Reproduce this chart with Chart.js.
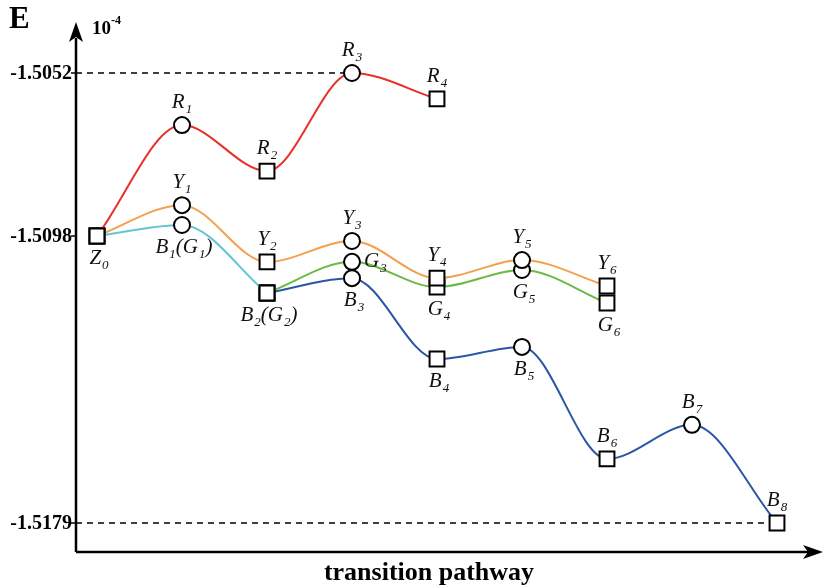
<!DOCTYPE html>
<html>
<head>
<meta charset="utf-8">
<script src="https://cdn.jsdelivr.net/npm/chart.js@4"></script>
<style>
  html, body { margin: 0; padding: 0; background: #fff; }
  #wrap { width: 823px; height: 588px; }
</style>
</head>
<body>
<div id="wrap"><canvas id="myChart" width="823" height="588"></canvas></div>
<script>
// energies along the pathways
var redSteps = [0, 1, 2, 3, 4];
var redE = [-1.5098, -1.50667, -1.50797, -1.5052, -1.50593];

var orangeSteps = [0, 1, 2, 3, 4, 5, 6];
var orangeE = [-1.5098, -1.50893, -1.51053, -1.50994, -1.51099, -1.51048, -1.51121];

var cyanSteps = [0, 1, 2];
var cyanE = [-1.5098, -1.50949, -1.51141];

var greenSteps = [2, 3, 4, 5, 6];
var greenE = [-1.51141, -1.51053, -1.51124, -1.51076, -1.51169];

var blueSteps = [2, 3, 4, 5, 6, 7, 8];
var blueE = [-1.51141, -1.51099, -1.51327, -1.51293, -1.51609, -1.51513, -1.5179];

var tickValues = [-1.5052, -1.5098, -1.5179];
var tickLabels = ['-1.5052', '-1.5098', '-1.5179'];

// point names: [text, step, energy, where]
var names = [
  ['Z_0', 0, redE[0], 'down'],
  ['R_1', 1, redE[1], 'up'],
  ['R_2', 2, redE[2], 'up'],
  ['R_3', 3, redE[3], 'up'],
  ['R_4', 4, redE[4], 'up'],
  ['Y_1', 1, orangeE[1], 'up'],
  ['Y_2', 2, orangeE[2], 'up'],
  ['Y_3', 3, orangeE[3], 'up'],
  ['Y_4', 4, orangeE[4], 'up'],
  ['Y_5', 5, orangeE[5], 'up'],
  ['Y_6', 6, orangeE[6], 'up'],
  ['B_1(G_1)', 1, cyanE[1], 'down'],
  ['B_2(G_2)', 2, cyanE[2], 'down'],
  ['G_3', 3, greenE[1], 'right'],
  ['G_4', 4, greenE[2], 'down'],
  ['G_5', 5, greenE[3], 'down'],
  ['G_6', 6, greenE[4], 'down'],
  ['B_3', 3, blueE[1], 'down'],
  ['B_4', 4, blueE[2], 'down'],
  ['B_5', 5, blueE[3], 'down'],
  ['B_6', 6, blueE[4], 'up'],
  ['B_7', 7, blueE[5], 'up'],
  ['B_8', 8, blueE[6], 'up']
];

function pts(xs, ys) {
  return xs.map(function (x, i) { return { x: x, y: ys[i] }; });
}
function shapes(xs) {
  return xs.map(function (x) { return x % 2 ? 'circle' : 'rect'; });
}
function radii(xs) {
  return xs.map(function (x) { return x % 2 ? 8 : 10.5; });
}
function series(xs, ys, color) {
  return {
    data: pts(xs, ys),
    borderColor: color,
    borderWidth: 2,
    cubicInterpolationMode: 'monotone',
    pointStyle: shapes(xs),
    pointRadius: radii(xs),
    pointBackgroundColor: '#fff',
    pointBorderColor: '#000',
    pointBorderWidth: 2,
    clip: false
  };
}

var serif = '"Liberation Serif", "DejaVu Serif", serif';

function drawName(ctx, str, cx, cy, align) {
  // split "B_1(G_1)" into normal / subscript pieces
  var parts = [];
  for (var i = 0; i < str.length; i++) {
    if (str[i] === '_') { parts.push([str[i + 1], 1]); i++; }
    else if (parts.length && parts[parts.length - 1][1] === 0) parts[parts.length - 1][0] += str[i];
    else parts.push([str[i], 0]);
  }
  var big = 'italic 21px ' + serif, small = 'italic 13px ' + serif;
  var w = 0;
  parts.forEach(function (p) { ctx.font = p[1] ? small : big; w += ctx.measureText(p[0]).width + (p[1] ? 1 : 0); });
  var x = align === 'left' ? cx : cx - w / 2;
  ctx.fillStyle = '#111';
  ctx.textAlign = 'left';
  ctx.textBaseline = 'alphabetic';
  parts.forEach(function (p) {
    ctx.font = p[1] ? small : big;
    ctx.fillText(p[0], x + (p[1] ? 1 : 0), cy + (p[1] ? 12 : 7));
    x += ctx.measureText(p[0]).width + (p[1] ? 1 : 0);
  });
}

var decor = {
  id: 'decor',
  beforeDatasetsDraw: function (chart) {
    var ctx = chart.ctx, xs = chart.scales.x, ys = chart.scales.y;
    var ax = chart.chartArea.left, ay = chart.chartArea.bottom;
    ctx.save();
    // dashed guides
    ctx.strokeStyle = '#000';
    ctx.lineWidth = 1.5;
    ctx.setLineDash([6, 5]);
    ctx.beginPath();
    ctx.moveTo(ax, ys.getPixelForValue(tickValues[0]));
    ctx.lineTo(xs.getPixelForValue(3), ys.getPixelForValue(tickValues[0]));
    ctx.moveTo(ax, ys.getPixelForValue(tickValues[2]));
    ctx.lineTo(xs.getPixelForValue(8), ys.getPixelForValue(tickValues[2]));
    ctx.stroke();
    ctx.setLineDash([]);
    // axes
    ctx.lineWidth = 2.5;
    ctx.beginPath();
    ctx.moveTo(ax, ay);
    ctx.lineTo(ax, 38);
    ctx.moveTo(ax, ay);
    ctx.lineTo(808, ay);
    ctx.stroke();
    ctx.fillStyle = '#000';
    ctx.beginPath();
    ctx.moveTo(ax, 22); ctx.lineTo(ax - 7, 42); ctx.lineTo(ax, 37); ctx.lineTo(ax + 7, 42);
    ctx.closePath(); ctx.fill();
    ctx.beginPath();
    ctx.moveTo(823, ay); ctx.lineTo(803, ay - 7); ctx.lineTo(808, ay); ctx.lineTo(803, ay + 7);
    ctx.closePath(); ctx.fill();
    // ticks
    ctx.lineWidth = 1.5;
    ctx.font = 'bold 20px ' + serif;
    ctx.textAlign = 'right';
    ctx.textBaseline = 'middle';
    tickValues.forEach(function (v, i) {
      var py = ys.getPixelForValue(v);
      ctx.beginPath(); ctx.moveTo(ax - 5, py); ctx.lineTo(ax, py); ctx.stroke();
      ctx.fillText(tickLabels[i], ax - 4, py + 1);
    });
    // titles
    ctx.textAlign = 'left';
    ctx.textBaseline = 'alphabetic';
    ctx.font = 'bold 31px ' + serif;
    ctx.fillText('E', 9, 28);
    ctx.font = 'bold 19px ' + serif;
    ctx.fillText('10', 92, 34);
    ctx.font = 'bold 12px ' + serif;
    ctx.fillText('-4', 111, 24);
    ctx.font = 'bold 26px ' + serif;
    ctx.textAlign = 'center';
    ctx.fillText('transition pathway', 429, 580);
    ctx.restore();
  },
  afterDatasetsDraw: function (chart) {
    var ctx = chart.ctx, xs = chart.scales.x, ys = chart.scales.y;
    ctx.save();
    names.forEach(function (n) {
      var px = xs.getPixelForValue(n[1]), py = ys.getPixelForValue(n[2]);
      if (n[3] === 'up') drawName(ctx, n[0], px, py - 24);
      else if (n[3] === 'down') drawName(ctx, n[0], px + 2, py + 21);
      else drawName(ctx, n[0], px + 12, py - 2, 'left');
    });
    ctx.restore();
  }
};

var ctx = document.getElementById('myChart').getContext('2d');
var myChart = new Chart(ctx, {
  type: 'line',
  data: {
    datasets: [
      series(redSteps, redE, '#e8302a'),
      series(cyanSteps, cyanE, '#62c6d2'),
      series(orangeSteps, orangeE, '#f2a14c'),
      series(greenSteps, greenE, '#6cb944'),
      series(blueSteps, blueE, '#2a56a6')
    ]
  },
  options: {
    responsive: false,
    animation: false,
    layout: { autoPadding: false, padding: { left: 76, right: 0, top: 22, bottom: 36 } },
    scales: {
      x: { type: 'linear', display: false, min: -0.2471, max: 8.5412 },
      y: { type: 'linear', display: false, min: -1.518718, max: -1.503761 }
    },
    plugins: { legend: { display: false }, tooltip: { enabled: false } }
  },
  plugins: [decor]
});
</script>
</body>
</html>
